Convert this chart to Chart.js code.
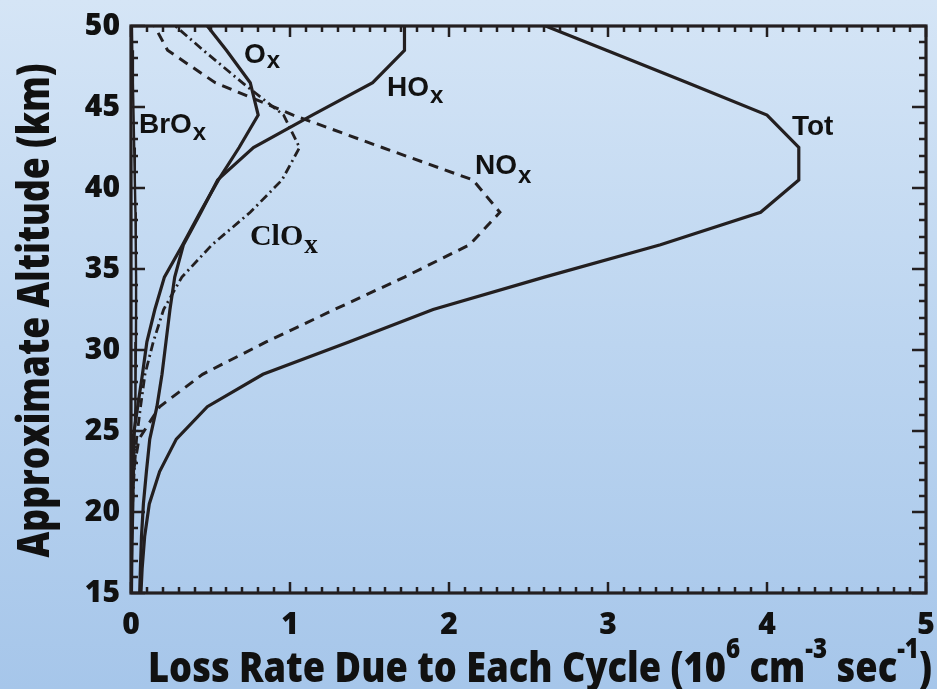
<!DOCTYPE html>
<html><head><meta charset="utf-8">
<script src="https://cdn.jsdelivr.net/npm/chart.js@4.4.1/dist/chart.umd.min.js"></script>
<style>
html,body{margin:0;padding:0;}
body{width:937px;height:689px;overflow:hidden;background:linear-gradient(to bottom,#d5e5f6 0%,#bcd5f0 50%,#a6c6ea 100%);}
#wrap{width:937px;height:689px;position:relative;}
</style></head><body>
<div id="wrap"><canvas id="c"></canvas></div>
<script>
// ---- data (altitude in km, loss rate in 10^6 cm^-3 s^-1) ----
const altitude = [50.5, 48.5, 46.5, 44.5, 42.5, 40.5, 38.5, 36.5, 34.5, 32.5, 30.5, 28.5, 26.5, 24.5, 22.5, 20.5, 18.5, 16.5, 14.5];
const totLoss  = [2.48, 2.99, 3.50, 4.00, 4.20, 4.20, 3.96, 3.33, 2.60, 1.90, 1.37, 0.83, 0.48, 0.285, 0.18, 0.115, 0.086, 0.070, 0.060];
const hoxLoss  = [1.72, 1.72, 1.52, 1.14, 0.77, 0.545, 0.44, 0.33, 0.275, 0.245, 0.22, 0.195, 0.163, 0.118, 0.097, 0.078, 0.066, 0.059, 0.053];
const oxLoss   = [0.44, 0.60, 0.75, 0.80, 0.68, 0.55, 0.435, 0.325, 0.21, 0.15, 0.10, 0.072, 0.042, 0.012, 0.004, 0.002, 0.001, 0.001, 0.001];
const noxLoss  = [0.12, 0.23, 0.53, 1.02, 1.58, 2.15, 2.32, 2.13, 1.72, 1.28, 0.85, 0.45, 0.18, 0.05, 0.015, 0.006, 0.003, 0.002, 0.001];
const cloxLoss = [0.22, 0.455, 0.70, 0.96, 1.06, 0.95, 0.75, 0.51, 0.32, 0.205, 0.14, 0.088, 0.06, 0.035, 0.02, 0.01, 0.005, 0.003, 0.002];
const broxLoss = [0.005, 0.008, 0.012, 0.016, 0.02, 0.024, 0.028, 0.03, 0.032, 0.032, 0.031, 0.029, 0.026, 0.022, 0.018, 0.014, 0.01, 0.007, 0.005];

const xTickValues = [0, 1, 2, 3, 4, 5];
const yTickValues = [15, 20, 25, 30, 35, 40, 45, 50];
const xMinorStep = 0.1;
const yMinorStep = 1;

const ink = '#231f20';
const tickFont = {family: "'Open Sans', 'Noto Sans', sans-serif", size: 30, weight: '800'};

function pts(vals) { return vals.map((v, i) => ({x: v, y: altitude[i]})); }

function ds(label, vals, dash, width) {
  return {label, data: pts(vals), showLine: true, borderColor: ink, borderWidth: width,
          borderDash: dash, pointRadius: 0, tension: 0, clip: 0, fill: false};
}

// curve labels placed in data coordinates
const sansMain = "bold 28px 'Liberation Sans', Arial, sans-serif";
const sansSub = "bold 24px 'Liberation Sans', Arial, sans-serif";
const annotations = [
  {main: 'O',   sub: 'x', x: 0.711, y: 47.7,  font: sansMain, subFont: sansSub, dy: 5},
  {main: 'HO',  sub: 'x', x: 1.61,  y: 45.68, font: sansMain, subFont: sansSub, dy: 7},
  {main: 'BrO', sub: 'x', x: 0.05,  y: 43.4,  font: sansMain, subFont: sansSub, dy: 7},
  {main: 'NO',  sub: 'x', x: 2.164, y: 40.86, font: sansMain, subFont: sansSub, dy: 9},
  {main: 'ClO', sub: 'x', x: 0.748, y: 36.5,  font: "bold 30px 'Liberation Serif', 'Times New Roman', serif", subFont: "bold 27px 'Liberation Serif', 'Times New Roman', serif", dy: 8},
  {main: 'Tot', sub: '',  x: 4.157, y: 43.27, font: sansMain, subFont: sansSub, dy: 0}
];

const framePlugin = {
  id: 'frame',
  afterDatasetsDraw(chart) {
    const {ctx, chartArea: a, scales: {x, y}} = chart;
    ctx.save();
    ctx.strokeStyle = ink;
    ctx.lineWidth = 2.5;
    ctx.beginPath();
    const nx = Math.round((x.max - x.min) / xMinorStep);
    for (let i = 0; i <= nx; i++) {
      const v = x.min + i * xMinorStep;
      const major = xTickValues.some(t => Math.abs(t - v) < 1e-6);
      const len = major ? 11 : 6;
      const px = Math.round(x.getPixelForValue(v));
      ctx.moveTo(px, a.bottom); ctx.lineTo(px, a.bottom - len);
      ctx.moveTo(px, a.top); ctx.lineTo(px, a.top + len);
    }
    const ny = Math.round((y.max - y.min) / yMinorStep);
    for (let i = 0; i <= ny; i++) {
      const v = y.min + i * yMinorStep;
      const major = yTickValues.some(t => Math.abs(t - v) < 1e-6);
      const len = major ? 14 : 7;
      const py = Math.round(y.getPixelForValue(v));
      ctx.moveTo(a.left, py); ctx.lineTo(a.left + len, py);
      ctx.moveTo(a.right, py); ctx.lineTo(a.right - len, py);
    }
    ctx.stroke();
    ctx.lineWidth = 3.2;
    ctx.strokeRect(a.left, a.top, a.right - a.left, a.bottom - a.top);

    // curve labels
    ctx.fillStyle = '#111';
    ctx.textBaseline = 'alphabetic';
    ctx.textAlign = 'left';
    annotations.forEach(l => {
      const px = x.getPixelForValue(l.x), py = y.getPixelForValue(l.y);
      ctx.font = l.font;
      ctx.fillText(l.main, px, py);
      const w = ctx.measureText(l.main).width;
      if (l.sub) { ctx.font = l.subFont; ctx.fillText(l.sub, px + w + 1, py + l.dy); }
    });

    // y axis title
    const yTitle = 'Approximate Altitude (km)';
    ctx.font = "800 44px 'Open Sans', 'Noto Sans', sans-serif";
    const yw = ctx.measureText(yTitle).width;
    const yLen = 494;
    ctx.save();
    ctx.translate(49, (a.top + a.bottom) / 2 + 1);
    ctx.rotate(-Math.PI / 2);
    ctx.scale(yLen / yw, 1);
    ctx.textAlign = 'center';
    ctx.fillText(yTitle, 0, 0);
    ctx.restore();

    // x axis title with superscripts
    const segs = [
      {t: 'Loss Rate Due to Each Cycle (10', s: false},
      {t: '6', s: true}, {t: ' cm', s: false}, {t: '-3', s: true},
      {t: ' sec', s: false}, {t: '-1', s: true}, {t: ')', s: false}
    ];
    const mainF = "800 42px 'Open Sans', 'Noto Sans', sans-serif";
    const supF = "800 28px 'Open Sans', 'Noto Sans', sans-serif";
    let total = 0;
    segs.forEach(sg => { ctx.font = sg.s ? supF : mainF; sg.w = ctx.measureText(sg.t).width; total += sg.w; });
    const xLeft = 148, xRight = 932;
    const sc = (xRight - xLeft) / total;
    ctx.save();
    ctx.translate(xLeft, 682);
    ctx.scale(sc, 1);
    let cx = 0;
    segs.forEach(sg => {
      ctx.font = sg.s ? supF : mainF;
      ctx.fillText(sg.t, cx, sg.s ? -24 : 0);
      cx += sg.w;
    });
    ctx.restore();
    ctx.restore();
  }
};

new Chart(document.getElementById('c'), {
  type: 'scatter',
  data: {
    datasets: [
      ds('Tot', totLoss, [], 3.2),
      ds('HOx', hoxLoss, [], 3.2),
      ds('Ox', oxLoss, [], 3.2),
      ds('NOx', noxLoss, [10, 7], 3),
      ds('ClOx', cloxLoss, [9, 4, 2, 4], 2.8),
      ds('BrOx', broxLoss, [], 2.4)
    ]
  },
  options: {
    responsive: true,
    maintainAspectRatio: false,
    devicePixelRatio: 1,
    animation: false,
    layout: {padding: {left: 0, top: 26, right: 11, bottom: 0}},
    plugins: {legend: {display: false}, tooltip: {enabled: false}},
    scales: {
      x: {
        type: 'linear', position: 'bottom', min: 0, max: 5,
        afterBuildTicks: s => { s.ticks = xTickValues.map(v => ({value: v})); },
        afterFit: s => { s.height = 96; s.paddingLeft = 0; s.paddingRight = 0; },
        ticks: {font: tickFont, color: '#111', padding: 14, maxRotation: 0, autoSkip: false},
        grid: {display: false, drawTicks: false},
        border: {display: false}
      },
      y: {
        type: 'linear', position: 'left', min: 15, max: 50,
        afterBuildTicks: s => { s.ticks = yTickValues.map(v => ({value: v})); },
        afterFit: s => { s.width = 131; s.paddingTop = 0; s.paddingBottom = 0; },
        ticks: {font: tickFont, color: '#111', padding: 11, autoSkip: false},
        grid: {display: false, drawTicks: false},
        border: {display: false}
      }
    }
  },
  plugins: [framePlugin]
});
</script>
</body></html>
